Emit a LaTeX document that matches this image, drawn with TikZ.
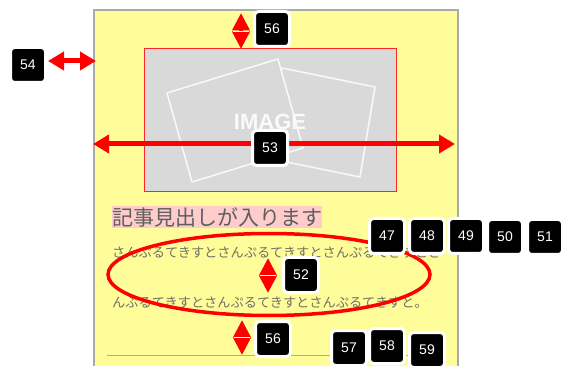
\documentclass[tikz,border=0pt]{standalone}
\usepackage{fontspec}
\setsansfont{Liberation Sans}
\newfontfamily\jpfont{Noto Sans CJK JP}
\usetikzlibrary{arrows.meta}
\definecolor{panelyellow}{HTML}{FFFD9A}
\definecolor{panelline}{HTML}{AAAAAA}
\definecolor{imggray}{HTML}{D9D9D9}
\definecolor{markred}{HTML}{FF0000}
\definecolor{headpink}{HTML}{FFCCCC}
\definecolor{headgray}{HTML}{5E5E5E}
\definecolor{bodygray}{HTML}{6E6E66}
\tikzset{
  badge/.style={fill=black, draw=white, line width=3pt, rounded corners=4pt, minimum size=35pt, inner sep=0pt, text=white, font=\sffamily\fontsize{14}{14}\selectfont},
  dimarrow/.style={draw=markred, line width=5pt, {Triangle[length=16pt,width=18pt,fill=markred]}-{Triangle[length=16pt,width=18pt,fill=markred]}},
  shortarrow/.style={draw=markred, line width=4pt, {Triangle[length=17.5pt,width=17pt,fill=markred]}-{Triangle[length=17.5pt,width=17pt,fill=markred]}},
  tipgap/.style={draw=white, line width=0.8pt},
  imgframe/.style={draw=white!95!gray, fill=imggray, line width=1.5pt, line join=round}
}
\begin{document}
\begin{tikzpicture}[x=1pt, y=-1pt]
\clip (0,0) rectangle (565,366);
\fill[white] (0,0) rectangle (565,366);
% card and image placeholder
\draw[fill=panelyellow, draw=panelline, line width=1.2pt] (94,10) rectangle (458,380);
\draw[fill=imggray, draw=markred!85!white, line width=1pt] (144,49) rectangle (396,192);
\draw[imgframe] (282,68) -- (375,87) -- (360,177) -- (267,158) -- cycle;
\draw[imgframe] (167,93) -- (278,59) -- (303,148) -- (192,182) -- cycle;
\node[text=white!96!gray, font=\sffamily\bfseries\fontsize{22}{22}\selectfont, inner sep=0pt] (imgtext) at (270,122) {IMAGE};
% heading and body text
\node[anchor=west, fill=headpink, text=headgray, inner xsep=0pt, inner ysep=1pt, font=\jpfont\fontsize{21}{21}\selectfont] (heading) at (112,217) {記事見出しが入ります};
\node[anchor=west, text=bodygray, inner sep=0pt, font=\jpfont\fontsize{13.2}{13.2}\selectfont] (line1) at (112,253) {さんぷるてきすとさんぷるてきすとさんぷるてきすとさ};
\node[anchor=west, text=bodygray, inner sep=0pt, font=\jpfont\fontsize{13.2}{13.2}\selectfont] (line2) at (112,303) {んぷるてきすとさんぷるてきすとさんぷるてきすと。};
\draw[panelline, line width=1pt] (107,355) -- (444,355);
\draw[markred, line width=3.5pt] (269,274.5) ellipse [x radius=161, y radius=41];
% dimension arrows
\coordinate (top56a) at (241,13); \coordinate (top56b) at (241,49);
\coordinate (left54a) at (48,61); \coordinate (left54b) at (96,61);
\coordinate (wide53a) at (93,144); \coordinate (wide53b) at (455,144);
\coordinate (mid52a) at (268,258); \coordinate (mid52b) at (268,293);
\coordinate (bot56a) at (242,320); \coordinate (bot56b) at (242,355);
\draw[shortarrow] (top56a) -- (top56b);
\draw[dimarrow] (left54a) -- (left54b);
\draw[dimarrow] (wide53a) -- (wide53b);
\draw[shortarrow] (mid52a) -- (mid52b);
\draw[shortarrow] (bot56a) -- (bot56b);
\draw[tipgap] (233,31) -- (249,31);
\draw[tipgap] (260,275.5) -- (276,275.5);
\draw[tipgap] (234,337.5) -- (250,337.5);
% number badges
\node[badge] (b56top) at (272,29) {56};
\node[badge] (b54) at (28,65) {54};
\node[badge] (b53) at (270,148) {53};
\node[badge] (b47) at (387,236) {47};
\node[badge] (b48) at (427,236) {48};
\node[badge] (b49) at (466,236) {49};
\node[badge] (b50) at (505,237) {50};
\node[badge] (b51) at (545,237) {51};
\node[badge] (b52) at (301,275) {52};
\node[badge] (b56bot) at (273,339) {56};
\node[badge] (b57) at (349,348) {57};
\node[badge] (b58) at (387,346) {58};
\node[badge] (b59) at (427,350) {59};
\end{tikzpicture}
\end{document}
